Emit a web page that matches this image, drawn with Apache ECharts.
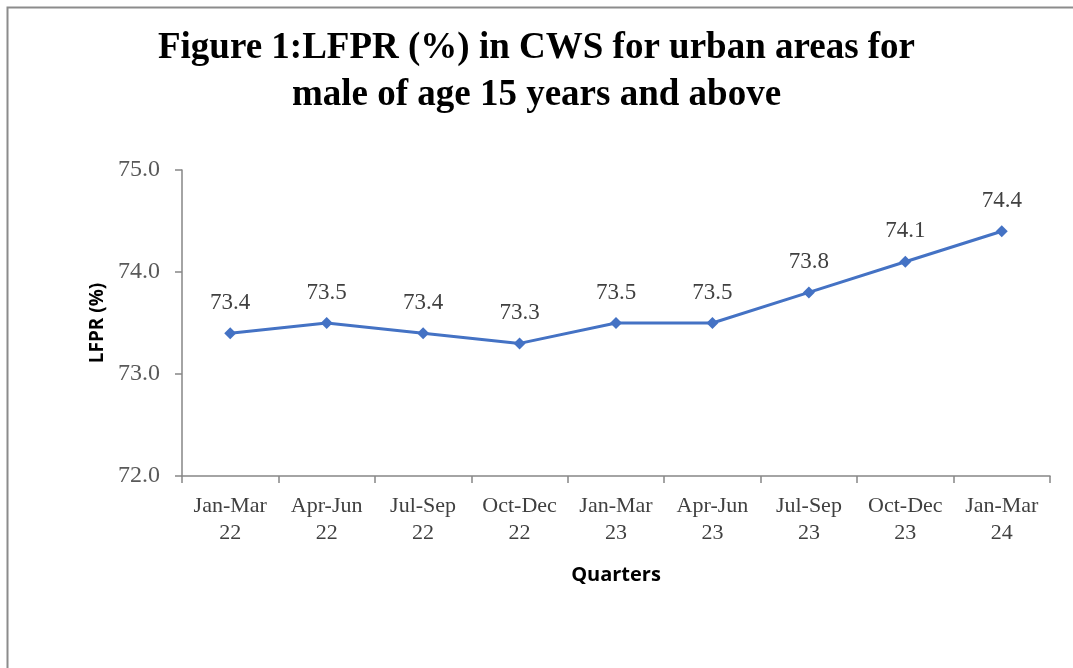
<!DOCTYPE html>
<html>
<head>
<meta charset="utf-8">
<script src="https://cdn.jsdelivr.net/npm/echarts@6/dist/echarts.min.js"></script>
<style>html,body{margin:0;padding:0;background:#fff}#c{width:1073px;height:668px}</style>
</head>
<body>
<div id="c"></div>
<script>
const categories = ['Jan-Mar\n22','Apr-Jun\n22','Jul-Sep\n22','Oct-Dec\n22','Jan-Mar\n23','Apr-Jun\n23','Jul-Sep\n23','Oct-Dec\n23','Jan-Mar\n24'];
const lfprValues = [73.4, 73.5, 73.4, 73.3, 73.5, 73.5, 73.8, 74.1, 74.4];
const titleText = 'Figure 1:LFPR (%) in CWS for urban areas for\nmale of age 15 years and above';
const yAxisName = 'LFPR (%)';
const xAxisName = 'Quarters';

const chart = echarts.init(document.getElementById('c'), null, {renderer: 'canvas'});
chart.setOption({
  backgroundColor: '#fff',
  animation: false,
  graphic: [{
    type: 'rect', left: 5, top: 5,
    shape: {width: 1100, height: 700},
    style: {fill: 'none', stroke: '#8c8c8c', lineWidth: 2}
  }],
  title: {
    text: titleText,
    left: 'center',
    top: 20,
    textStyle: {fontFamily: 'Liberation Serif', fontWeight: 'bold', fontSize: 37, lineHeight: 47, color: '#000'}
  },
  grid: {left: 182, right: 23, top: 170, bottom: 192},
  xAxis: {
    type: 'category',
    data: categories,
    boundaryGap: true,
    name: xAxisName,
    nameLocation: 'middle',
    nameGap: 89,
    nameTextStyle: {fontFamily: 'Open Sans', fontWeight: 'bold', fontSize: 20, color: '#000'},
    axisLine: {lineStyle: {color: '#868686', width: 1.5}},
    axisTick: {show: true, length: 7, lineStyle: {color: '#868686', width: 1.5}},
    axisLabel: {fontFamily: 'Liberation Serif', fontSize: 22, lineHeight: 27, color: '#404040', margin: 17, interval: 0}
  },
  yAxis: {
    type: 'value',
    min: 72, max: 75, interval: 1,
    name: yAxisName,
    nameLocation: 'middle',
    nameGap: 75,
    nameTextStyle: {fontFamily: 'Open Sans', fontWeight: 'bold', fontSize: 19, color: '#000'},
    axisLine: {show: true, lineStyle: {color: '#868686', width: 1.5}},
    axisTick: {show: true, length: 7, lineStyle: {color: '#868686', width: 1.5}},
    splitLine: {show: false},
    axisLabel: {fontFamily: 'Liberation Serif', fontSize: 24, color: '#595959', margin: 22, formatter: v => v.toFixed(1)}
  },
  series: [{
    type: 'line',
    data: lfprValues,
    symbol: 'diamond',
    symbolSize: 12,
    lineStyle: {color: '#4472C4', width: 3},
    itemStyle: {color: '#4472C4'},
    label: {show: true, position: 'top', distance: 13, fontFamily: 'Liberation Serif', fontSize: 23, color: '#404040', formatter: p => p.value.toFixed(1)}
  }]
});
</script>
</body>
</html>
